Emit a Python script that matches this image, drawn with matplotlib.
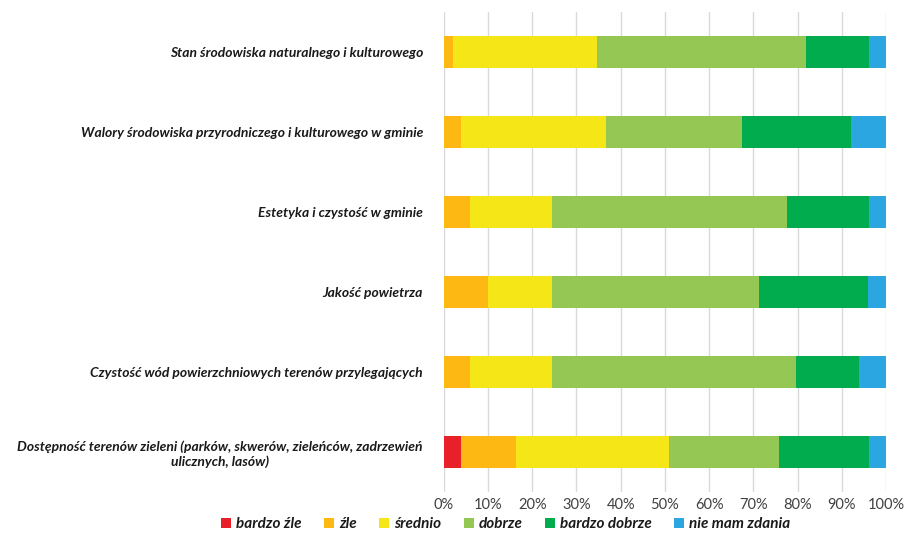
import matplotlib.pyplot as plt
import numpy as np
from matplotlib.ticker import PercentFormatter

# categories, top to bottom
categories = [
    "Stan środowiska naturalnego i kulturowego",
    "Walory środowiska przyrodniczego i kulturowego w gminie",
    "Estetyka i czystość w gminie",
    "Jakość powietrza",
    "Czystość wód powierzchniowych terenów przylegających",
    "Dostępność terenów zieleni (parków, skwerów, zieleńców, zadrzewień\nulicznych, lasów)",
]

series_names = ["bardzo źle", "źle", "średnio", "dobrze", "bardzo dobrze", "nie mam zdania"]

# shares in percent, one list per answer
bardzo_zle = [0, 0, 0, 0, 0, 4.0]
zle = [2.0, 4.0, 6.0, 10.0, 6.0, 12.3]
srednio = [32.6, 32.7, 18.5, 14.4, 18.5, 34.7]
dobrze = [47.2, 30.7, 53.1, 46.9, 55.1, 24.7]
bardzo_dobrze = [14.3, 24.6, 18.5, 24.7, 14.4, 20.4]
nie_mam_zdania = [3.9, 8.0, 3.9, 3.9, 6.0, 3.9]

colors = ['#E8202A', '#FDB813', '#F5E617', '#94C754', '#00AC4E', '#2CA6E0']

plt.rcParams['font.family'] = ['Lato', 'DejaVu Sans']

fig = plt.figure(figsize=(9.08, 5.34), dpi=100)
ax = fig.add_axes([0.4887, 0.0787, 0.4871, 0.8988])

y = np.arange(len(categories))
left = np.zeros(len(categories))
all_series = [bardzo_zle, zle, srednio, dobrze, bardzo_dobrze, nie_mam_zdania]
for name, vals, col in zip(series_names, all_series, colors):
    ax.barh(y, vals, left=left, height=0.4, color=col, label=name, zorder=3)
    left += np.array(vals)

ax.set_xlim(0, 100)
ax.set_ylim(len(categories) - 0.5, -0.5)
ax.set_xticks(np.arange(0, 101, 10))
ax.xaxis.set_major_formatter(PercentFormatter(decimals=0))
ax.grid(axis='x', color='#d9d9d9', linewidth=1, zorder=0)
for s in ax.spines.values():
    s.set_visible(False)
ax.tick_params(axis='both', length=0)
ax.tick_params(axis='x', labelsize=10.5, colors='#404040', pad=4)

ax.set_yticks(y)
ax.set_yticklabels(categories, fontsize=10, fontweight='bold', fontstyle='italic',
                   color='#1a1a1a', multialignment='center')
ax.tick_params(axis='y', pad=15)

leg = fig.legend(loc='center', bbox_to_anchor=(0.557, 0.018), ncol=6, frameon=False,
                 handlelength=0.65, handleheight=0.65, handletextpad=0.3, columnspacing=1.5,
                 borderpad=0.1, prop={'weight': 'bold', 'style': 'italic', 'size': 11})
for t in leg.get_texts():
    t.set_color('#1a1a1a')

fig.savefig('out.png', dpi=100)
